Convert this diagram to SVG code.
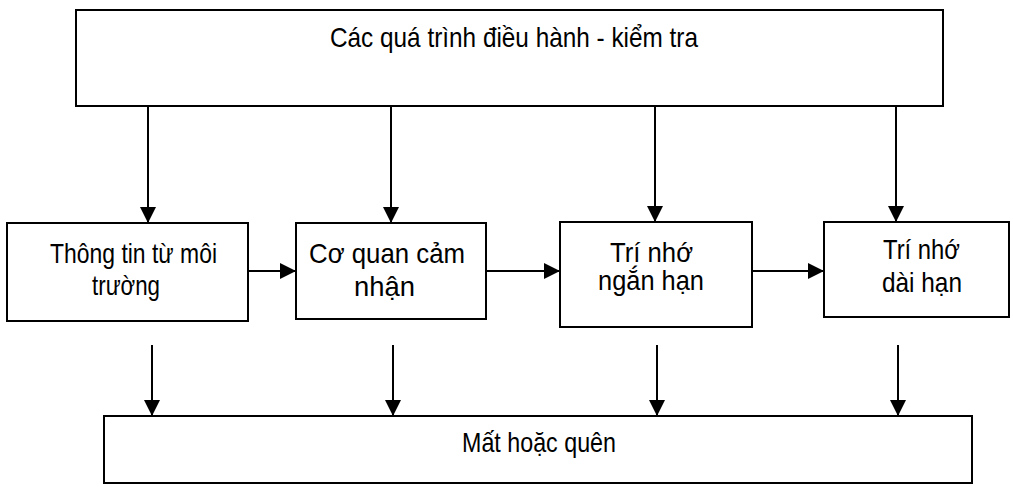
<svg xmlns="http://www.w3.org/2000/svg" width="1013" height="487" viewBox="0 0 1013 487">
<style>
.box{fill:#fff;stroke:#000;stroke-width:2}
.t{font-family:"Liberation Sans",Arial,sans-serif;font-size:28px;fill:#000}
.c{stroke:#000;stroke-width:2;fill:none;marker-end:url(#ah)}
</style>
<defs>
<marker id="ah" viewBox="0 0 16 16" refX="16" refY="8" markerWidth="16" markerHeight="16" markerUnits="userSpaceOnUse" orient="auto">
<path d="M0,0 L16,8 L0,16 Z" fill="#000"/>
</marker>
</defs>
<rect width="1013" height="487" fill="#fff"/>
<g id="connectors">
<line class="c" x1="148" y1="106" x2="148" y2="223"/>
<line class="c" x1="391" y1="106" x2="391" y2="223"/>
<line class="c" x1="655" y1="106" x2="655" y2="222"/>
<line class="c" x1="896" y1="106" x2="896" y2="222"/>
<line class="c" x1="248" y1="271" x2="296" y2="271"/>
<line class="c" x1="486" y1="271" x2="560" y2="271"/>
<line class="c" x1="752" y1="271" x2="824" y2="271"/>
<line class="c" x1="152" y1="345" x2="152" y2="416"/>
<line class="c" x1="393" y1="345" x2="393" y2="416"/>
<line class="c" x1="657" y1="345" x2="657" y2="416"/>
<line class="c" x1="898" y1="345" x2="898" y2="416"/>
</g>
<g id="control">
<rect class="box" x="76" y="10" width="867" height="96"/>
<text class="t" x="330" y="47" textLength="368" lengthAdjust="spacingAndGlyphs">Các quá trình điều hành - kiểm tra</text>
</g>
<g id="env">
<rect class="box" x="7" y="223" width="241" height="98"/>
<text class="t" x="50" y="263" textLength="167" lengthAdjust="spacingAndGlyphs">Thông tin từ môi</text>
<text class="t" x="92" y="295" textLength="68" lengthAdjust="spacingAndGlyphs">trường</text>
</g>
<g id="sensory">
<rect class="box" x="296" y="223" width="190" height="96"/>
<text class="t" x="309" y="263" textLength="156" lengthAdjust="spacingAndGlyphs">Cơ quan cảm</text>
<text class="t" x="354" y="296" textLength="61" lengthAdjust="spacingAndGlyphs">nhận</text>
</g>
<g id="stm">
<rect class="box" x="560" y="222" width="192" height="105"/>
<text class="t" x="610" y="262" textLength="83" lengthAdjust="spacingAndGlyphs">Trí nhớ</text>
<text class="t" x="598" y="290" textLength="106" lengthAdjust="spacingAndGlyphs">ngắn hạn</text>
</g>
<g id="ltm">
<rect class="box" x="824" y="222" width="185" height="95"/>
<text class="t" x="883" y="259" textLength="77" lengthAdjust="spacingAndGlyphs">Trí nhớ</text>
<text class="t" x="882" y="292" textLength="80" lengthAdjust="spacingAndGlyphs">dài hạn</text>
</g>
<g id="loss">
<rect class="box" x="104" y="416" width="868" height="67"/>
<text class="t" x="462" y="452" textLength="154" lengthAdjust="spacingAndGlyphs">Mất hoặc quên</text>
</g>
</svg>
